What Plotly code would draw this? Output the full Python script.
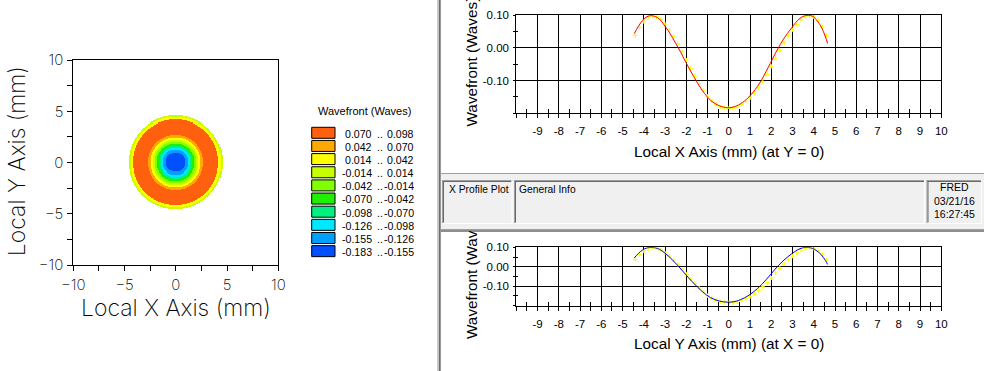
import numpy as np
import plotly.graph_objects as go

W, H = 984, 371

# ---------------- data ----------------
band_labels_lo = ["0.070", "0.042", "0.014", "-0.014", "-0.042", "-0.070", "-0.098", "-0.126", "-0.155", "-0.183"]
band_labels_hi = ["0.098", "0.070", "0.042", "0.014", "-0.014", "-0.042", "-0.070", "-0.098", "-0.126", "-0.155"]
band_colors = ["#ff6010", "#ffa800", "#ffff00", "#c8ff00", "#80ff00",
               "#1ef000", "#00f080", "#00e8ff", "#00a0ff", "#0050ff"]

# contour rings: outer radius (mm) and band index (0 = top legend row)
ring_outer_r = [0.95, 1.25, 1.45, 1.65, 1.85, 2.05, 2.25, 2.45, 2.7, 4.2, 4.45, 4.6]
ring_band = [9, 8, 7, 6, 5, 4, 3, 2, 1, 0, 2, 3]

# X profile (at Y = 0), red line
xprof_x = [-4.45, -4.25, -4.05, -3.85, -3.65, -3.45, -3.25, -3.05, -2.85, -2.65, -2.45, -2.25,
           -2.05, -1.85, -1.65, -1.45, -1.25, -1.05, -0.85, -0.65, -0.45, -0.25, -0.05, 0.15,
           0.35, 0.55, 0.75, 0.95, 1.15, 1.35, 1.55, 1.75, 1.95, 2.15, 2.35, 2.55, 2.75, 2.95,
           3.15, 3.35, 3.55, 3.75, 3.95, 4.15, 4.35, 4.55, 4.65]
xprof_v = [0.043, 0.066, 0.084, 0.095, 0.098, 0.095, 0.087, 0.070, 0.052, 0.031, 0.008, -0.015,
           -0.041, -0.065, -0.088, -0.110, -0.130, -0.147, -0.161, -0.170, -0.177, -0.181, -0.183, -0.182,
           -0.178, -0.171, -0.162, -0.150, -0.135, -0.118, -0.097, -0.073, -0.048, -0.022, 0.002, 0.024,
           0.043, 0.060, 0.077, 0.090, 0.097, 0.099, 0.096, 0.083, 0.064, 0.033, 0.013]

# Y profile (at X = 0), blue line
yprof_x = xprof_x
yprof_v = [0.045, 0.069, 0.087, 0.097, 0.099, 0.097, 0.089, 0.074, 0.056, 0.035, 0.012, -0.012,
           -0.037, -0.062, -0.085, -0.107, -0.127, -0.145, -0.159, -0.169, -0.176, -0.180, -0.182, -0.181,
           -0.177, -0.169, -0.159, -0.146, -0.130, -0.112, -0.091, -0.067, -0.042, -0.016, 0.008, 0.030,
           0.049, 0.066, 0.081, 0.093, 0.099, 0.099, 0.094, 0.081, 0.062, 0.032, 0.012]

# sampled points (yellow markers)
mark_x = [-4.4, -4.2, -4.0, -3.8, -3.6, -3.4, -3.2, -3.0, -2.8, -2.6, -2.4, -2.2, -2.0, -1.8, -1.6,
          -1.4, -1.2, -1.0, -0.8, -0.6, -0.4, -0.2, 0.0, 0.2, 0.4, 0.6, 0.8, 1.0, 1.2, 1.4, 1.6,
          1.8, 2.0, 2.2, 2.4, 2.6, 2.8, 3.0, 3.2, 3.4, 3.6, 3.8, 4.0, 4.2, 4.4, 4.6]
mark_v = [0.038, 0.062, 0.080, 0.092, 0.097, 0.095, 0.086, 0.072, 0.055, 0.035, 0.012, -0.012,
          -0.038, -0.063, -0.087, -0.109, -0.130, -0.148, -0.162, -0.173, -0.180, -0.184, -0.185,
          -0.184, -0.180, -0.173, -0.164, -0.153, -0.139, -0.122, -0.103, -0.081, -0.057, -0.032,
          -0.008, 0.015, 0.036, 0.055, 0.071, 0.085, 0.094, 0.097, 0.094, 0.083, 0.064, 0.036]

prof_xtick_vals = list(range(-10, 11))
prof_xtick_text = [""] + [str(v) for v in range(-9, 11)]
prof_ytick_vals = [-0.2, -0.1, 0.0, 0.1]
prof_ytick_text = ["", "-0.10", "0.00", "0.10"]

info_left = "X Profile Plot"
info_mid = "General Info"
info_right = ["FRED", "03/21/16", "16:27:45"]


def px(x):
    return x / W


def py(y):
    return 1 - y / H


ARIAL = "Liberation Sans, Arial, sans-serif"
THIN = "Inter, Roboto, DejaVu Sans, sans-serif"
THIN_W = 200

fig = go.Figure()

# ---------------- contour map (heatmap of rings) ----------------
grid = np.round(np.arange(-4.75, 4.751, 0.1), 3)
GX, GY = np.meshgrid(grid, grid)
R = np.sqrt(GX ** 2 + GY ** 2)
Z = np.full(R.shape, np.nan)
for rad, b in zip(ring_outer_r[::-1], ring_band[::-1]):
    Z[R <= rad] = b
n = len(band_colors)
cs = [[i / (n - 1), c] for i, c in enumerate(band_colors)]
fig.add_trace(go.Heatmap(x=grid, y=grid, z=Z, colorscale=cs, zmin=0, zmax=n - 1,
                         showscale=False, hoverinfo="skip", xaxis="x", yaxis="y"))

# ---------------- profile plots ----------------
mk = dict(symbol="cross-thin", size=3, line=dict(color="#ffff00", width=1.2))
fig.add_trace(go.Scatter(x=mark_x, y=mark_v, mode="markers", marker=mk,
                         xaxis="x2", yaxis="y2", hoverinfo="skip"))
fig.add_trace(go.Scatter(x=xprof_x, y=xprof_v, mode="lines", line=dict(color="#ff0000", width=1, shape="spline"),
                         xaxis="x2", yaxis="y2", hoverinfo="skip"))
fig.add_trace(go.Scatter(x=mark_x, y=mark_v, mode="markers", marker=mk,
                         xaxis="x3", yaxis="y3", hoverinfo="skip"))
fig.add_trace(go.Scatter(x=yprof_x, y=yprof_v, mode="lines", line=dict(color="#0000ff", width=1, shape="spline"),
                         xaxis="x3", yaxis="y3", hoverinfo="skip"))
# dummy traces so the overlay tick axes are drawn
for xa, ya in [("x4", "y2"), ("x5", "y3"), ("x2", "y4"), ("x3", "y5")]:
    fig.add_trace(go.Scatter(x=[None], y=[None], xaxis=xa, yaxis=ya, showlegend=False, hoverinfo="skip"))

cont_axis = dict(range=[-10, 10], showline=True, mirror=True, linecolor="black", linewidth=1,
                 showgrid=False, zeroline=False, ticks="outside", ticklen=5, tickcolor="black",
                 tickvals=[-10, -5, 0, 5, 10], ticklabelstandoff=1, automargin=False,
                 minor=dict(ticks="outside", ticklen=5, tickcolor="black", dtick=2.5, tick0=0, showgrid=False),
                 tickfont=dict(family=THIN, size=15, color="black", weight=THIN_W))

prof_x_axis = dict(range=[-10, 10], showline=True, mirror=True, linecolor="black", linewidth=1,
                   showgrid=True, gridcolor="black", gridwidth=1, zeroline=False, automargin=False,
                   tickvals=prof_xtick_vals, ticktext=prof_xtick_text,
                   ticks="outside", ticklen=4, tickcolor="black", ticklabelstandoff=3,
                   minor=dict(ticks="outside", ticklen=4, tickcolor="black", dtick=0.5, tick0=0, showgrid=False),
                   tickfont=dict(family=ARIAL, size=11.5, color="black"))
prof_y_axis = dict(range=[-0.2, 0.1], showline=True, mirror=True, linecolor="black", linewidth=1,
                   showgrid=True, gridcolor="black", gridwidth=1, zeroline=False, automargin=False,
                   tickvals=prof_ytick_vals, ticktext=prof_ytick_text,
                   ticks="outside", ticklen=2, tickcolor="black", ticklabelstandoff=2,
                   minor=dict(ticks="outside", ticklen=2, tickcolor="black", dtick=0.05, tick0=0, showgrid=False),
                   tickfont=dict(family=ARIAL, size=11.5, color="black"))
over_x = dict(range=[-10, 10], showline=False, showgrid=False, zeroline=False, showticklabels=False,
              ticks="inside", ticklen=4, tickcolor="black", dtick=0.5, tick0=0, automargin=False)
over_y = dict(range=[-0.2, 0.1], showline=False, showgrid=False, zeroline=False, showticklabels=False,
              ticks="inside", ticklen=2, tickcolor="black", dtick=0.05, tick0=0, automargin=False)

fig.update_layout(
    template="none",
    width=W, height=H, margin=dict(l=0, r=0, t=0, b=0, pad=0), autosize=False,
    paper_bgcolor="white", plot_bgcolor="white", showlegend=False,
    xaxis=dict(domain=[px(73.3), px(278.3)], anchor="y", **cont_axis),
    yaxis=dict(domain=[py(265), py(60)], anchor="x", **cont_axis),
    xaxis2=dict(domain=[px(516.3), px(941.3)], anchor="y2", **prof_x_axis),
    yaxis2=dict(domain=[py(113.3), py(15)], anchor="x2", **prof_y_axis),
    xaxis3=dict(domain=[px(516.3), px(941.3)], anchor="y3", **prof_x_axis),
    yaxis3=dict(domain=[py(305.7), py(247.3)], anchor="x3", **prof_y_axis),
    xaxis4=dict(overlaying="x2", anchor="y2", **over_x),
    xaxis5=dict(overlaying="x3", anchor="y3", **over_x),
    yaxis4=dict(overlaying="y2", anchor="x2", **over_y),
    yaxis5=dict(overlaying="y3", anchor="x3", **over_y),
)

shapes = []
ann = []


def rect(x0, y0, x1, y1, fill=None, line=None, lw=1, layer="above"):
    shapes.append(dict(type="rect", xref="paper", yref="paper", x0=px(x0), x1=px(x1), y0=py(y1), y1=py(y0),
                       fillcolor=fill if fill else "rgba(0,0,0,0)",
                       line=dict(color=line if line else "rgba(0,0,0,0)", width=lw if line else 0), layer=layer))


def hline(x0, x1, y, color, lw=1):
    shapes.append(dict(type="line", xref="paper", yref="paper", x0=px(x0), x1=px(x1), y0=py(y), y1=py(y),
                       line=dict(color=color, width=lw)))


def vline(x, y0, y1, color, lw=1):
    shapes.append(dict(type="line", xref="paper", yref="paper", x0=px(x), x1=px(x), y0=py(y0), y1=py(y1),
                       line=dict(color=color, width=lw)))


def text(x, y, s, size, family=ARIAL, xanchor="center", yanchor="middle", angle=0, color="black", weight=None):
    f = dict(family=family, size=size, color=color)
    if weight:
        f["weight"] = weight
    ann.append(dict(x=px(x), y=py(y), xref="paper", yref="paper", text=s, showarrow=False,
                    xanchor=xanchor, yanchor=yanchor, textangle=angle, font=f))


# contour axis titles
text(176.3, 308, "Local X Axis (mm)", 23, family=THIN, weight=THIN_W)
text(16.5, 161.7, "Local Y Axis (mm)", 23, family=THIN, angle=-90, weight=THIN_W)

# legend
text(364.5, 110.7, "Wavefront (Waves)", 11)
for i in range(len(band_colors)):
    top = 127.3 + 13.15 * i
    rect(311.7, top, 335, top + 11, fill=band_colors[i], line="black", lw=1)
    cy = top + 6.3
    text(373.5, cy, band_labels_lo[i], 10.6, xanchor="right")
    text(379.5, cy, "..", 10.6)
    text(415.5, cy, band_labels_hi[i], 10.6, xanchor="right")

# divider between panes
vline(437.8, 0, H, "#b4b4b4", 1)
vline(439.7, 0, H, "#6d6d6d", 2)

# info bar
rect(441, 173.5, 984, 230, fill="#f0f0f0", layer="below")
hline(441, 984, 173.5, "#a0a0a0", 1)
hline(441, 984, 229.5, "#a0a0a0", 1)
hline(441, 984, 231.0, "#696969", 1.5)
for (x0, x1) in [(442, 512.5), (514, 925), (926.5, 982)]:
    hline(x0, x1, 180.5, "#a0a0a0", 1)
    vline(x0 + 0.5, 180, 223.5, "#a0a0a0", 1)
    hline(x0 + 1, x1 - 1, 181.5, "#696969", 1)
    vline(x0 + 1.5, 181, 222.5, "#696969", 1)
    hline(x0, x1, 223.5, "#ffffff", 1)
    vline(x1 - 0.5, 180, 224, "#ffffff", 1)
text(446.5, 189, info_left, 10.3, xanchor="left")
text(516.5, 189, info_mid, 10.3, xanchor="left")
for k, s in enumerate(info_right):
    text(954.5, 186.7 + 13.8 * k, s, 10.5)

# profile titles
text(728.5, 151.7, "Local X Axis (mm) (at Y = 0)", 15.3)
text(471, 128.5, "Wavefront (Waves)", 15.3, yanchor="bottom", angle=-90)
text(728.5, 343, "Local Y Axis (mm) (at X = 0)", 15.3)
text(471, 341.5, "Wavefront (Wav", 15.3, yanchor="bottom", angle=-90)

fig.update_layout(shapes=shapes, annotations=ann)
fig.write_html("out.html", config={"displayModeBar": False, "staticPlot": True},
               post_script="document.body.style.margin='0px';document.body.style.padding='0px';"
                           "document.documentElement.style.overflow='hidden';")
